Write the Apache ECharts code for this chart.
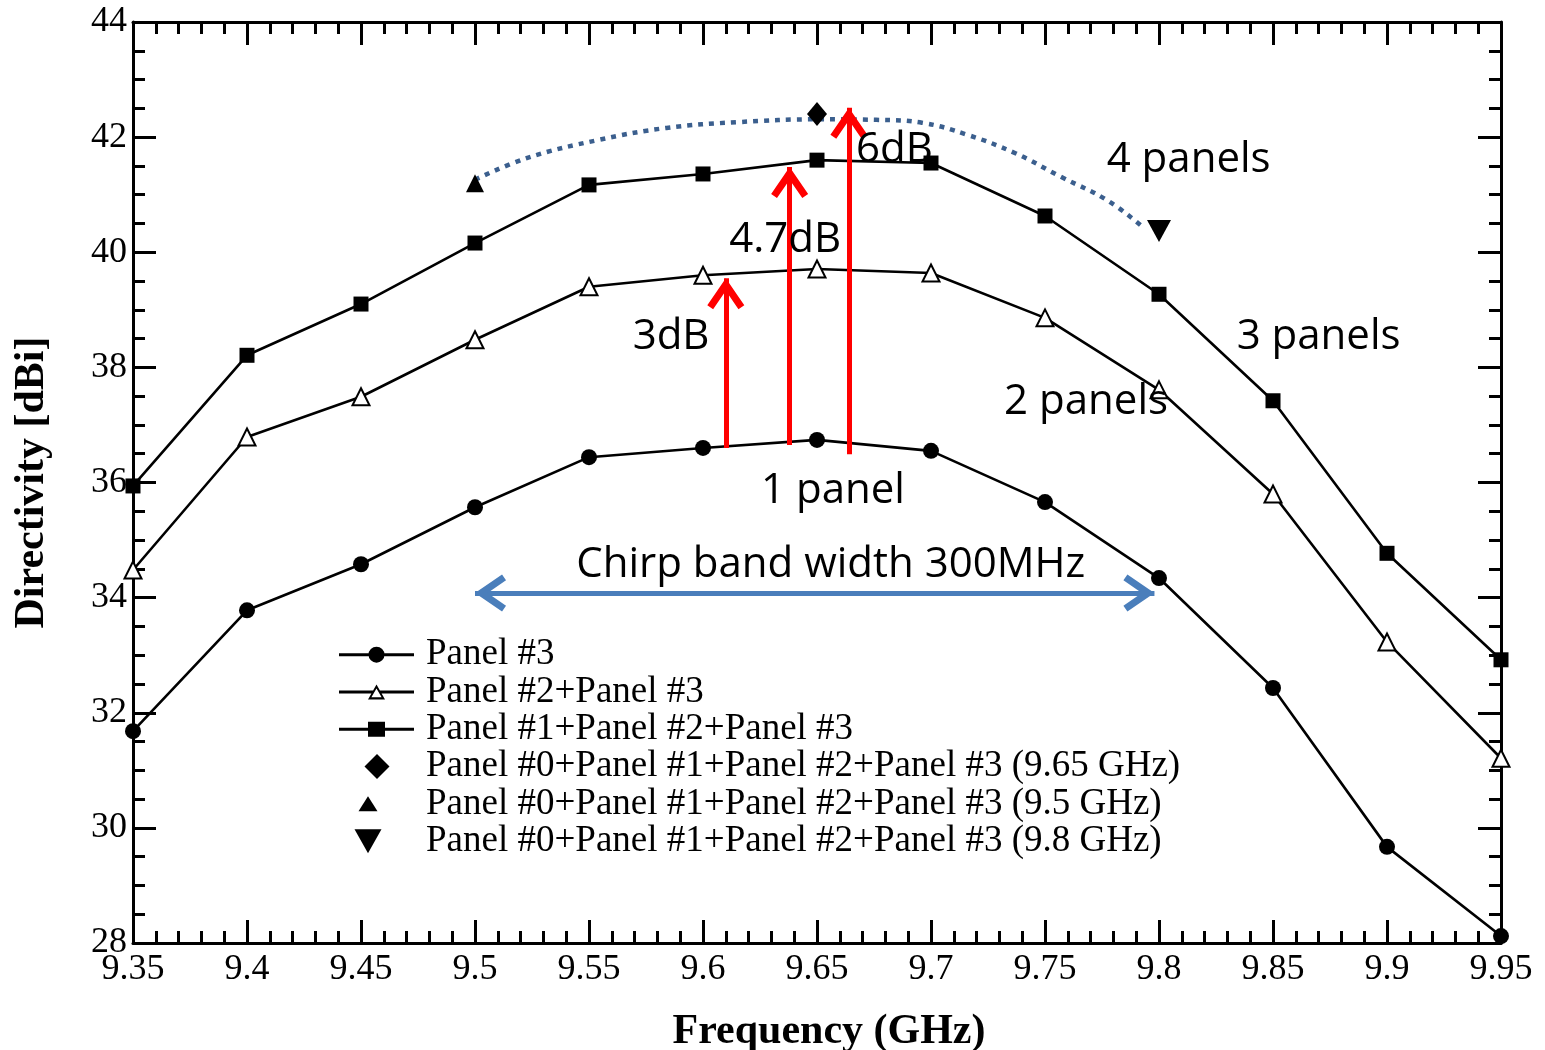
<!DOCTYPE html>
<html>
<head>
<meta charset="utf-8">
<script src="https://cdn.jsdelivr.net/npm/echarts@6/dist/echarts.min.js"></script>
<style>
html,body{margin:0;padding:0;background:#fff;}
#chart{width:1545px;height:1050px;}
</style>
</head>
<body>
<div id="chart"></div>
<script>
// ---------- data ----------
const freq = [9.35, 9.4, 9.45, 9.5, 9.55, 9.6, 9.65, 9.7, 9.75, 9.8, 9.85, 9.9, 9.95];
const panel3 = [31.68, 33.78, 34.58, 35.57, 36.44, 36.60, 36.74, 36.55, 35.66, 34.34, 32.43, 29.67, 28.12];
const panel23 = [34.48, 36.79, 37.49, 38.48, 39.40, 39.60, 39.71, 39.64, 38.86, 37.61, 35.80, 33.23, 31.21];
const panel123 = [35.94, 38.21, 39.10, 40.16, 41.17, 41.36, 41.60, 41.55, 40.63, 39.27, 37.42, 34.77, 32.92];
const p0123_965 = [[9.65, 42.40]];
const p0123_95 = [[9.5, 41.20]];
const p0123_98 = [[9.8, 40.37]];
const seriesNames = [
  'Panel #3',
  'Panel #2+Panel #3',
  'Panel #1+Panel #2+Panel #3',
  'Panel #0+Panel #1+Panel #2+Panel #3 (9.65 GHz)',
  'Panel #0+Panel #1+Panel #2+Panel #3 (9.5 GHz)',
  'Panel #0+Panel #1+Panel #2+Panel #3 (9.8 GHz)'
];
// dotted "4 panels" trend curve
const trendCurve = [[9.50,41.26],[9.523,41.64],[9.554,41.95],[9.584,42.16],[9.615,42.26],[9.651,42.31],[9.676,42.30],[9.696,42.25],[9.716,42.04],[9.737,41.72],[9.757,41.31],[9.777,40.91],[9.792,40.47]];
// red gain arrows: [x, yStart, yTip]
const gainArrows = [[9.610, 36.60, 39.55], [9.638, 36.65, 41.48], [9.664, 36.49, 42.51]];
// chirp bandwidth arrow: [xStart, xEnd, y]
const bandArrow = [9.500, 9.798, 34.08];
// text annotations: [x, y, text]
const notes = [
  [9.684, 41.78, '6dB'],
  [9.813, 41.60, '4 panels'],
  [9.636, 40.21, '4.7dB'],
  [9.586, 38.53, '3dB'],
  [9.870, 38.53, '3 panels'],
  [9.768, 37.40, '2 panels'],
  [9.657, 35.85, '1 panel'],
  [9.656, 34.57, 'Chirp band width 300MHz']
];
const xTicks = {min: 9.35, max: 9.95, interval: 0.05};
const yTicks = {min: 28, max: 44, interval: 2};

// ---------- chart ----------
// chevron with its tip at the symbol centre (frame -13..39 x -26..26)
const chevron = 'path://M-13,-26 M39,26 M13,0 L26,19 L21.9,21.8 L13,8.85 L4.1,21.8 L0,19 Z';
// legend icons drawn in a 75 x 26 frame
const F = 'M0,0 M75,26 ';
const lineL = (x) => 'M0,11.5 L' + x + ',11.5 L' + x + ',14.5 L0,14.5 Z ';
const lineR = (x) => 'M' + x + ',11.5 L75,11.5 L75,14.5 L' + x + ',14.5 Z ';
const legendIcons = [
  'path://' + F + lineL(30) + lineR(45) + 'M29.5,13 A8,8 0 1,1 45.5,13 A8,8 0 1,1 29.5,13 Z',
  'path://' + F + lineL(34) + lineR(41) + 'M37.5,5.5 L46,20.5 L29,20.5 Z M37.5,9.6 L32.4,18.3 L42.6,18.3 Z',
  'path://' + F + lineL(30) + lineR(45) + 'M29,5.5 L46,5.5 L46,20.5 L29,20.5 Z',
  'path://' + F + 'M25.5,13 L38,0.5 L50.5,13 L38,25.5 Z',
  'path://' + F + 'M19.5,20.5 L29,5.5 L38.5,20.5 Z',
  'path://' + F + 'M15.5,1 L42.5,1 L29,25 Z'
];
const serif = 'Liberation Serif';
const pair = (xs, ys) => xs.map((x, i) => [x, ys[i]]);

const axisCommon = {
  axisLine: {show: true, lineStyle: {color: '#000', width: 3}},
  axisTick: {show: true, inside: true, length: 23, lineStyle: {color: '#000', width: 3}},
  minorTick: {show: true, length: 12, lineStyle: {color: '#000', width: 3}},
  splitLine: {show: false}
};

const chart = echarts.init(document.getElementById('chart'), null, {renderer: 'canvas'});
chart.setOption({
  animation: false,
  backgroundColor: '#fff',
  grid: {left: 133, right: 44, top: 22, bottom: 107, containLabel: false, outerBoundsMode: 'none'},
  legend: {
    data: seriesNames.map((n, i) => ({
      name: n, icon: legendIcons[i],
      itemStyle: {color: '#000', borderWidth: 0, opacity: 1}
    })),
    orient: 'vertical',
    left: 339, top: 636, padding: 0,
    itemWidth: 75, itemHeight: 26, itemGap: 0,
    symbolKeepAspect: true,
    textStyle: {fontFamily: serif, fontSize: 37, color: '#000', lineHeight: 37.3, padding: [0, 0, 0, 7]},
    selectedMode: false
  },
  xAxis: [
    Object.assign({}, axisCommon, {
      type: 'value', min: xTicks.min, max: xTicks.max, interval: xTicks.interval,
      minorTick: Object.assign({}, axisCommon.minorTick, {splitNumber: 5}),
      name: 'Frequency (GHz)', nameLocation: 'middle', nameGap: 68,
      nameTextStyle: {fontFamily: serif, fontSize: 42, fontWeight: 'bold', color: '#000', padding: [0, 0, 0, 24]},
      axisLabel: {fontFamily: serif, fontSize: 36, color: '#000', margin: 9}
    }),
    Object.assign({}, axisCommon, {
      type: 'value', position: 'top', min: xTicks.min, max: xTicks.max, interval: xTicks.interval,
      minorTick: Object.assign({}, axisCommon.minorTick, {splitNumber: 5}),
      axisLabel: {show: false}
    })
  ],
  yAxis: [
    Object.assign({}, axisCommon, {
      type: 'value', min: yTicks.min, max: yTicks.max, interval: yTicks.interval,
      minorTick: Object.assign({}, axisCommon.minorTick, {splitNumber: 4}),
      name: 'Directivity [dBi]', nameLocation: 'middle', nameGap: 80,
      nameTextStyle: {fontFamily: serif, fontSize: 42, fontWeight: 'bold', color: '#000'},
      axisLabel: {fontFamily: serif, fontSize: 36, color: '#000', margin: 6}
    }),
    Object.assign({}, axisCommon, {
      type: 'value', position: 'right', min: yTicks.min, max: yTicks.max, interval: yTicks.interval,
      minorTick: Object.assign({}, axisCommon.minorTick, {splitNumber: 4}),
      axisLabel: {show: false}
    })
  ],
  series: [
    {
      name: seriesNames[0], type: 'line', data: pair(freq, panel3),
      symbol: 'circle', symbolSize: 16, showAllSymbol: true, clip: false,
      lineStyle: {color: '#000', width: 2.6}, itemStyle: {color: '#000'}, z: 3
    },
    {
      name: seriesNames[1], type: 'line', data: pair(freq, panel23),
      symbol: 'triangle', symbolSize: 17, showAllSymbol: true, clip: false,
      lineStyle: {color: '#000', width: 2.6}, itemStyle: {color: '#fff', borderColor: '#000', borderWidth: 2}, z: 3
    },
    {
      name: seriesNames[2], type: 'line', data: pair(freq, panel123),
      symbol: 'rect', symbolSize: 15, showAllSymbol: true, clip: false,
      lineStyle: {color: '#000', width: 2.6}, itemStyle: {color: '#000'}, z: 3
    },
    {
      name: seriesNames[3], type: 'scatter', data: p0123_965,
      symbol: 'diamond', symbolSize: [20, 24], itemStyle: {color: '#000', opacity: 1}, z: 4
    },
    {
      name: seriesNames[4], type: 'scatter', data: p0123_95,
      symbol: 'triangle', symbolSize: 18, itemStyle: {color: '#000', opacity: 1}, z: 4
    },
    {
      name: seriesNames[5], type: 'scatter', data: p0123_98,
      symbol: 'path://M0,0 L20,0 L10,18 Z', symbolSize: [24, 22], itemStyle: {color: '#000', opacity: 1}, z: 4
    },
    {
      name: 'trend', type: 'line', data: trendCurve, smooth: 0.4, symbol: 'none',
      lineStyle: {color: '#3b5f8e', width: 4.5, type: [5, 6]}, z: 2, silent: true
    },
    {
      name: 'arrows', type: 'line', data: [], symbol: 'none', silent: true,
      markLine: {
        silent: true, animation: false,
        symbol: ['none', chevron], symbolSize: 74,
        label: {show: false},
        lineStyle: {color: '#ff0000', width: 5, type: 'solid'},
        data: gainArrows.map(a => [{coord: [a[0], a[1]]}, {coord: [a[0], a[2]]}])
      },
      z: 5
    },
    {
      name: 'band', type: 'line', data: [], symbol: 'none', silent: true,
      markLine: {
        silent: true, animation: false,
        symbol: [chevron, chevron], symbolSize: 74,
        label: {show: false},
        lineStyle: {color: '#4a7ebb', width: 5, type: 'solid'},
        data: [[{coord: [bandArrow[0], bandArrow[2]]}, {coord: [bandArrow[1], bandArrow[2]]}]]
      },
      z: 5
    },
    {
      name: 'notes', type: 'scatter', silent: true, symbolSize: 1,
      itemStyle: {color: 'rgba(0,0,0,0)'},
      data: notes.map(n => ({value: [n[0], n[1]], label: {formatter: n[2]}})),
      label: {
        show: true, position: 'inside', fontFamily: 'Open Sans', fontSize: 42,
        color: '#000', textBorderWidth: 0, textBorderColor: 'transparent', opacity: 1
      },
      z: 6
    }
  ]
});
</script>
</body>
</html>
